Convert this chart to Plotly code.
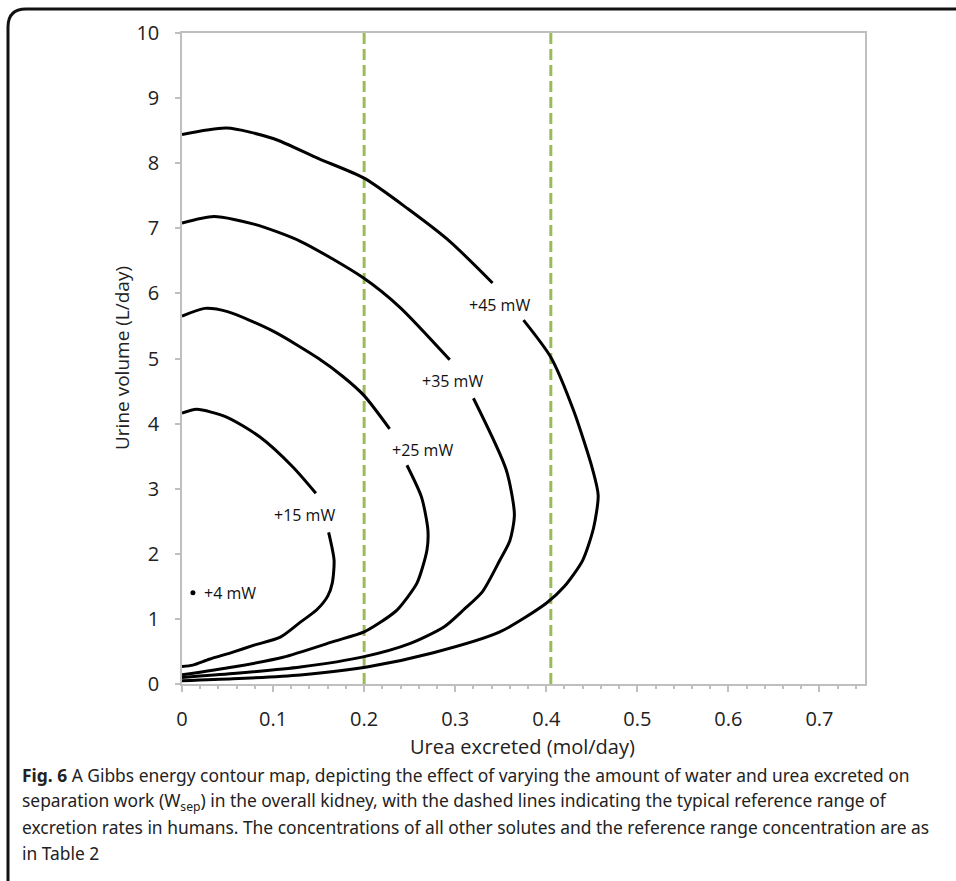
import plotly.graph_objects as go

# ---- data ----
c15_x = [0, 0.016, 0.049, 0.086, 0.122, 0.147, None, 0.161, 0.167, 0.165, 0.160, 0.148, 0.130, 0.108, 0.080, 0.056, 0.030, 0.012, 0]
c15_y = [4.16, 4.22, 4.10, 3.79, 3.33, 2.93, None, 2.33, 1.90, 1.55, 1.35, 1.14, 0.95, 0.72, 0.60, 0.49, 0.38, 0.29, 0.27]

c25_x = [0, 0.025, 0.05, 0.10, 0.15, 0.177, 0.200, 0.228, None, 0.247, 0.263, 0.270, 0.269, 0.258, 0.239, 0.234, 0.217, 0.200, 0.166, 0.111, 0.056, 0]
c25_y = [5.65, 5.77, 5.72, 5.42, 5.00, 4.72, 4.43, 3.92, None, 3.36, 2.87, 2.37, 2.06, 1.55, 1.18, 1.11, 0.94, 0.80, 0.65, 0.41, 0.26, 0.14]

c35_x = [0, 0.035, 0.08, 0.13, 0.199, 0.239, 0.294, None, 0.320, 0.356, 0.365, 0.360, 0.349, 0.330, 0.310, 0.288, 0.250, 0.200, 0.130, 0.056, 0]
c35_y = [7.08, 7.18, 7.06, 6.80, 6.24, 5.79, 4.98, None, 4.39, 3.29, 2.60, 2.20, 1.90, 1.42, 1.15, 0.88, 0.62, 0.42, 0.26, 0.16, 0.10]

c45_x = [0, 0.049, 0.10, 0.15, 0.200, 0.248, 0.294, 0.341, None, 0.375, 0.405, 0.430, 0.451, 0.457, 0.452, 0.440, 0.420, 0.400, 0.349, 0.276, 0.203, 0.130, 0.056, 0]
c45_y = [8.44, 8.54, 8.38, 8.07, 7.77, 7.30, 6.80, 6.16, None, 5.59, 5.02, 4.20, 3.29, 2.90, 2.40, 1.90, 1.50, 1.24, 0.80, 0.48, 0.26, 0.14, 0.08, 0.05]

point4_x = [0.012]
point4_y = [1.40]

contour_labels = ["+45 mW", "+35 mW", "+25 mW", "+15 mW"]
label_x = [0.349, 0.297, 0.264, 0.134]
label_y = [5.82, 4.65, 3.59, 2.60]
point4_label = "+4 mW"
point4_label_x = 0.0215

ref_range_x = [0.2, 0.405]
y_span = [0, 10]

x_ticks = [0, 0.1, 0.2, 0.3, 0.4, 0.5, 0.6, 0.7]
x_tick_text = ["0", "0.1", "0.2", "0.3", "0.4", "0.5", "0.6", "0.7"]
y_ticks = list(range(0, 11))

caption_lines = [
    "<b>Fig. 6</b> A Gibbs energy contour map, depicting the effect of varying the amount of water and urea excreted on",
    "separation work (W<sub>sep</sub>) in the overall kidney, with the dashed lines indicating the typical reference range of",
    "excretion rates in humans. The concentrations of all other solutes and the reference range concentration are as",
    "in Table 2",
]

# ---- layout geometry (pixels) ----
W, H = 956, 881
L, R, T, B = 182, 91, 33, 197
PW, PH = W - L - R, H - T - B


def px(xp):
    return (xp - L) / PW


def py(yp):
    return (H - B - yp) / PH


FONT = "Open Sans"
GREEN = "#9BBB59"
AXIS = "#BFBFBF"

fig = go.Figure()

for xr in ref_range_x:
    fig.add_trace(go.Scatter(
        x=[xr, xr], y=y_span, mode="lines",
        line=dict(color=GREEN, width=3, dash="11px,5px"),
        hoverinfo="skip", showlegend=False))

for cx, cy in [(c15_x, c15_y), (c25_x, c25_y), (c35_x, c35_y), (c45_x, c45_y)]:
    fig.add_trace(go.Scatter(
        x=cx, y=cy, mode="lines",
        line=dict(color="black", width=3, shape="spline", smoothing=0.7),
        connectgaps=False, showlegend=False))

fig.add_trace(go.Scatter(
    x=point4_x, y=point4_y, mode="markers",
    marker=dict(color="black", size=5),
    showlegend=False))

fig.add_annotation(x=point4_label_x, y=point4_y[0], text=point4_label, showarrow=False,
                   xanchor="left", yanchor="middle",
                   font=dict(family=FONT, size=16, color="#111"))

for t, lx, ly in zip(contour_labels, label_x, label_y):
    fig.add_annotation(x=lx, y=ly, text=t, showarrow=False,
                       xanchor="center", yanchor="middle",
                       font=dict(family=FONT, size=16, color="#111"))

# axis titles
fig.add_annotation(xref="paper", yref="paper", x=px(522), y=py(746), text="Urea excreted (mol/day)",
                   xanchor="center", yanchor="middle",
                   showarrow=False, font=dict(family=FONT, size=20, color="#222"))
fig.add_annotation(xref="paper", yref="paper", x=px(122), y=py(358), text="Urine volume (L/day)",
                   xanchor="center", yanchor="middle",
                   textangle=-90, showarrow=False, font=dict(family=FONT, size=19, color="#222"))

# caption
for i, line in enumerate(caption_lines):
    fig.add_annotation(xref="paper", yref="paper", x=px(20), y=py(775 + 26 * i), text=line,
                       xanchor="left", yanchor="middle", showarrow=False,
                       font=dict(family="Noto Sans", size=17.4, color="#222"))

# outer frame (rounded top-left, open at right and bottom)
x0, y0 = px(8), py(9)
xc, yc = px(26), py(27)
fig.add_shape(type="path", xref="paper", yref="paper",
              path=f"M {x0},{py(890)} L {x0},{yc} Q {x0},{y0} {xc},{y0} L {px(970)},{y0}",
              line=dict(color="#111", width=3))

fig.update_layout(
    width=W, height=H,
    margin=dict(l=L, r=R, t=T, b=B, pad=0),
    plot_bgcolor="white", paper_bgcolor="white",
    showlegend=False,
    xaxis=dict(range=[0, 0.75], tickvals=x_ticks, ticktext=x_tick_text,
               showgrid=False, zeroline=False, showline=True, linecolor=AXIS, linewidth=1.5,
               mirror=True, ticks="outside", ticklen=6, tickcolor=AXIS, tickwidth=1.5,
               minor=dict(dtick=0.02, ticks="outside", ticklen=3, tickcolor=AXIS, tickwidth=1.5, showgrid=False),
               tickfont=dict(family=FONT, size=20, color="#222"), ticklabelstandoff=10),
    yaxis=dict(range=[0, 10], tickvals=y_ticks,
               showgrid=False, zeroline=False, showline=True, linecolor=AXIS, linewidth=1.5,
               mirror=True, ticks="outside", ticklen=5, tickcolor=AXIS, tickwidth=1.5,
               tickfont=dict(family=FONT, size=20, color="#222"), ticklabelstandoff=12),
)

fig.write_html("out.html")
